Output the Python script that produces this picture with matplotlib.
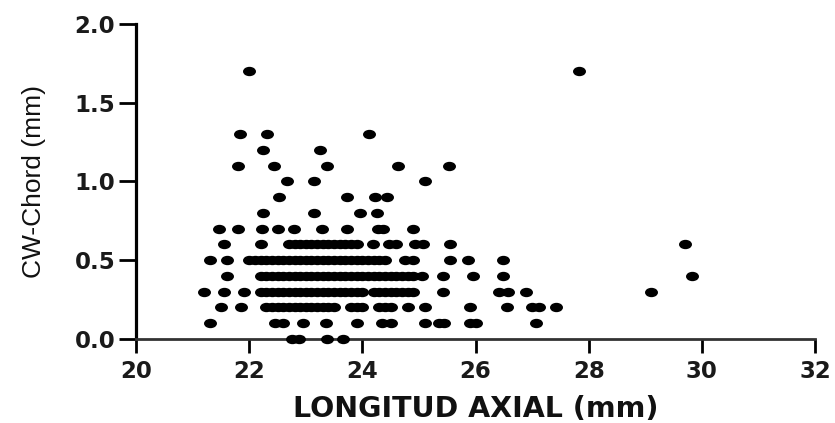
import numpy as np
import matplotlib
matplotlib.use('Agg')
import matplotlib.pyplot as plt
from matplotlib.path import Path
from matplotlib.transforms import Affine2D

# CW-Chord values (mm) and the axial lengths (mm) read for each level
cw_levels = [0.0, 0.1, 0.2, 0.3, 0.4, 0.5, 0.6, 0.7, 0.8, 0.9, 1.0, 1.1, 1.2, 1.3, 1.7]

axial_00 = [22.75, 22.88, 23.37, 23.65]
axial_01 = [21.3, 22.45, 22.6, 22.95, 23.35, 23.9, 24.35, 24.5, 25.1, 25.35, 25.45,
            25.9, 26.0, 27.07]
axial_02 = [21.5, 21.85, 22.3, 22.4, 22.5, 22.6, 22.7, 22.8, 22.9, 23.0, 23.1, 23.2,
            23.3, 23.4, 23.5, 23.8, 23.9, 24.0, 24.3, 24.4, 24.5, 24.8, 25.1, 25.9,
            26.55, 27.0, 27.12, 27.42]
axial_03 = [21.2, 21.55, 21.9, 22.2, 22.3, 22.4, 22.5, 22.6, 22.7, 22.8, 22.9, 23.0,
            23.1, 23.2, 23.3, 23.4, 23.5, 23.6, 23.7, 23.8, 23.9, 24.0, 24.2, 24.3,
            24.4, 24.5, 24.6, 24.7, 24.8, 24.9, 25.43, 26.42, 26.58, 26.9, 29.1]
axial_04 = [21.6, 22.2, 22.3, 22.4, 22.5, 22.6, 22.7, 22.8, 22.9, 23.0, 23.1, 23.2,
            23.3, 23.4, 23.5, 23.6, 23.7, 23.8, 23.9, 24.0, 24.1, 24.2, 24.3, 24.4,
            24.5, 24.6, 24.7, 24.8, 24.9, 25.05, 25.43, 25.95, 26.48, 29.83]
axial_05 = [21.3, 21.6, 22.0, 22.1, 22.2, 22.3, 22.4, 22.5, 22.6, 22.7, 22.8, 22.9,
            23.0, 23.1, 23.2, 23.3, 23.4, 23.5, 23.6, 23.7, 23.8, 23.9, 24.0, 24.1,
            24.2, 24.3, 24.4, 24.75, 24.9, 25.55, 25.87, 26.49]
axial_06 = [21.55, 22.2, 22.7, 22.8, 22.9, 23.0, 23.1, 23.2, 23.3, 23.4, 23.5, 23.6,
            23.7, 23.8, 23.9, 24.18, 24.47, 24.6, 24.93, 25.08, 25.55, 29.7]
axial_07 = [21.47, 21.8, 22.22, 22.51, 22.79, 23.28, 23.72, 24.27, 24.37, 24.9]
axial_08 = [22.24, 23.14, 23.95, 24.25]
axial_09 = [22.52, 23.72, 24.22, 24.44]
axial_10 = [22.66, 23.15, 25.1]
axial_11 = [21.8, 22.44, 23.37, 24.63, 25.53]
axial_12 = [22.24, 23.25]
axial_13 = [21.83, 22.32, 24.12]
axial_17 = [22.0, 27.83]

axial_rows = [axial_00, axial_01, axial_02, axial_03, axial_04, axial_05, axial_06,
              axial_07, axial_08, axial_09, axial_10, axial_11, axial_12, axial_13,
              axial_17]

x = np.concatenate([np.array(r, dtype=float) for r in axial_rows])
y = np.concatenate([np.full(len(r), lv) for r, lv in zip(axial_rows, cw_levels)])

# the original picture is stretched sideways, so the dots are ellipses
ellipse = Path.unit_circle().transformed(Affine2D().scale(1.45, 1.0))

fig = plt.figure(figsize=(8.35, 4.23), dpi=100)
ax = fig.add_axes([0.163, 0.199, 0.813, 0.744])

ax.plot(x, y, linestyle='none', marker=ellipse, markersize=8.3,
        color='black', clip_on=False, zorder=5)

ax.set_xlim(20, 32)
ax.set_ylim(0, 2.0)
ax.set_xticks([20, 22, 24, 26, 28, 30, 32])
ax.set_yticks([0.0, 0.5, 1.0, 1.5, 2.0])
ax.set_yticklabels(['0.0', '0.5', '1.0', '1.5', '2.0'])

for s in ['top', 'right']:
    ax.spines[s].set_visible(False)
ax.spines['left'].set_linewidth(2.3)
ax.spines['bottom'].set_linewidth(2.0)
ax.spines['bottom'].set_color('#333333')

ax.tick_params(axis='x', direction='out', length=10, width=2, colors='black', pad=5)
ax.tick_params(axis='y', direction='out', length=12, width=2, colors='black', pad=3)
for lab in ax.get_xticklabels() + ax.get_yticklabels():
    lab.set_fontfamily('DejaVu Sans')
    lab.set_fontweight('bold')
    lab.set_fontsize(16.5)
    lab.set_color('#1a1a1a')

ax.set_xlabel('LONGITUD AXIAL (mm)', fontsize=20.5, fontweight='bold',
              family='DejaVu Sans', color='#111111')
ax.xaxis.set_label_coords(0.5, -0.18)
ax.set_ylabel('CW-Chord (mm)', fontsize=19, family='Liberation Sans',
              color='#111111')
ax.yaxis.set_label_coords(-0.133, 0.5)

fig.savefig('out.png', dpi=100)
